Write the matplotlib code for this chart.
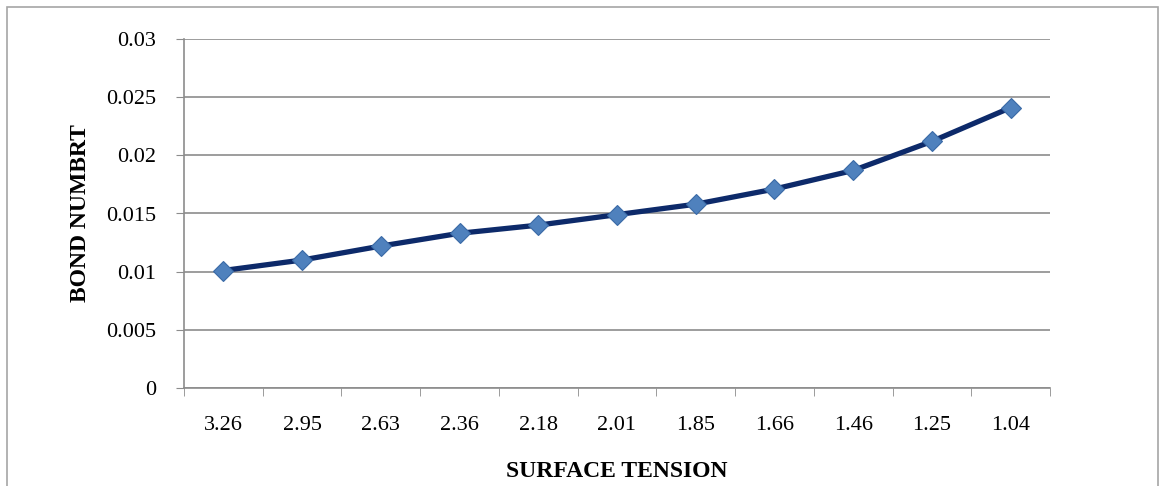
import matplotlib
matplotlib.use("Agg")
import matplotlib.pyplot as plt
from matplotlib.patches import Rectangle
import numpy as np

tension = ["3.26", "2.95", "2.63", "2.36", "2.18", "2.01",
           "1.85", "1.66", "1.46", "1.25", "1.04"]
bond = [0.0101, 0.0110, 0.0122, 0.0133, 0.0140, 0.0149,
        0.0158, 0.0171, 0.0187, 0.0212, 0.0241]
y_ticks = [0, 0.005, 0.01, 0.015, 0.02, 0.025, 0.03]
y_labels = ["0", "0.005", "0.01", "0.015", "0.02", "0.025", "0.03"]


def main():
    plt.rcParams["font.family"] = ["Liberation Serif", "DejaVu Serif"]
    fig = plt.figure(figsize=(11.66, 4.86), dpi=100)
    ax = fig.add_axes([184 / 1166, 1 - 388 / 486, 866 / 1166, 349 / 486])

    # outer chart frame
    fig.patches.append(Rectangle((7 / 1166, -0.05), 1151 / 1166, 1 - 7 / 486 + 0.05,
                                 transform=fig.transFigure, fill=False,
                                 edgecolor="#a6a6a6", linewidth=1.2))

    x = np.arange(len(tension))
    ax.plot(x, bond, color="#0d2a6a", linewidth=3.8, zorder=3,
            marker="D", markersize=10, markerfacecolor="#4f81bd",
            markeredgecolor="#3a6aa6", markeredgewidth=0.8)

    ax.set_xlim(-0.5, len(tension) - 0.5)
    ax.set_ylim(0, 0.03)
    ax.set_yticks(y_ticks)
    ax.set_yticklabels(y_labels, fontsize=16)
    ax.set_xticks(x)
    ax.set_xticklabels(tension, fontsize=16)
    ax.set_xticks(np.arange(len(tension) + 1) - 0.5, minor=True)
    ax.tick_params(axis="x", which="major", length=0, pad=20)
    ax.tick_params(axis="x", which="minor", length=6, color="#8c8c8c")
    ax.tick_params(axis="y", length=6, color="#8c8c8c", pad=14)

    ax.grid(axis="y", color="#8c8c8c", linewidth=1.2)
    ax.set_axisbelow(True)
    for side in ["top", "right"]:
        ax.spines[side].set_visible(False)
    for side in ["left", "bottom"]:
        ax.spines[side].set_color("#8c8c8c")
        ax.spines[side].set_linewidth(1.2)

    ax.set_xlabel("SURFACE TENSION", fontsize=17, fontweight="bold", labelpad=19)
    ax.set_ylabel("BOND NUMBRT", fontsize=17, fontweight="bold", labelpad=11)

    fig.savefig("out.png", dpi=100)


if __name__ == "__main__":
    main()
